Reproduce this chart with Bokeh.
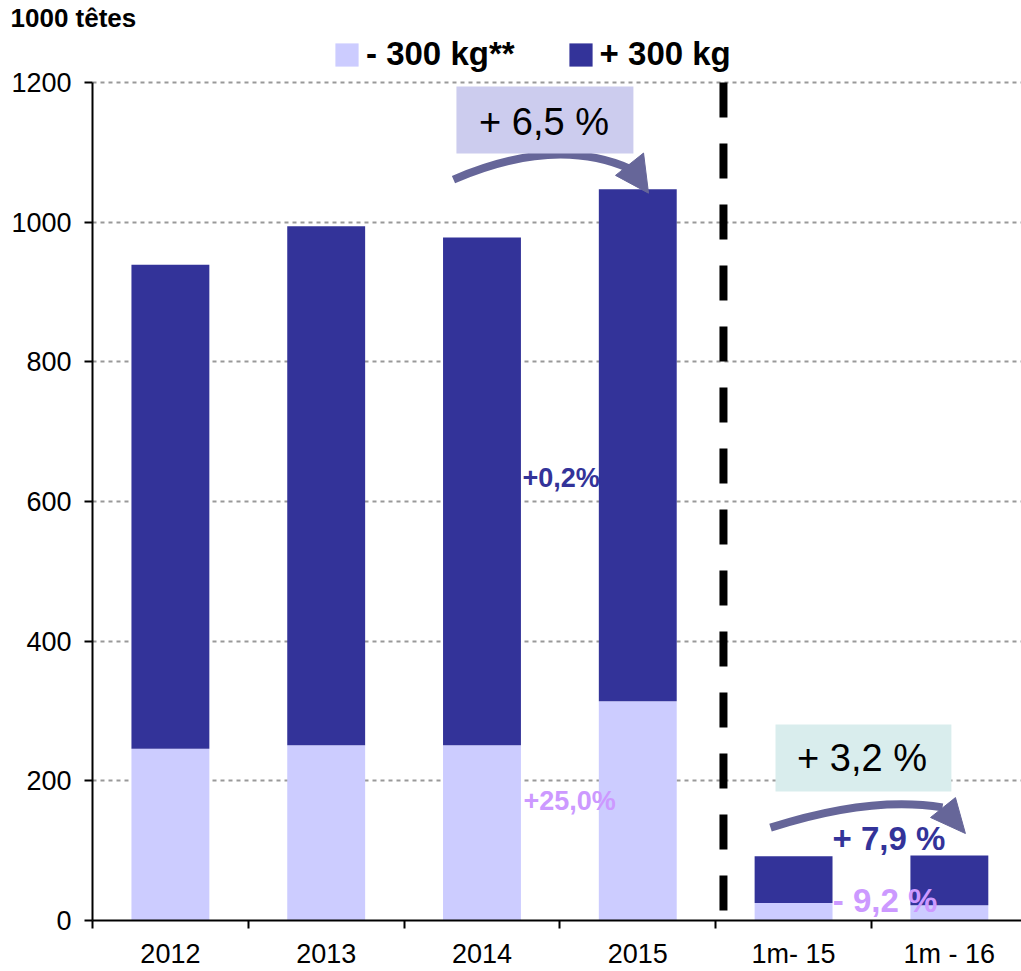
from bokeh.plotting import figure
from bokeh.models import (ColumnDataSource, FixedTicker, Label, Legend, LegendItem,
                          BoxAnnotation, Title)
from bokeh.embed import file_html
from bokeh.resources import INLINE

# ---------------- data ----------------
categories = ["2012", "2013", "2014", "2015", "1m- 15", "1m - 16"]
light = [246, 251, 251, 314, 25, 22]        # - 300 kg**
heavy = [693, 743, 727, 733, 67, 71]        # + 300 kg
series_labels = ["- 300 kg**", "+ 300 kg"]
y_ticks = [0, 200, 400, 600, 800, 1000, 1200]
unit_title = "1000 têtes"

LIGHT = "#CCCCFF"
DARK = "#333399"
PINK = "#CC99FF"
ARROW = "#666699"
FONT = "Liberation Sans"

Y_MAX = 1200
Y_TOP = 1271.6      # frame extends above the axis to host the legend

centers = [i + 0.5 for i in range(len(categories))]
bounds = [float(i) for i in range(len(categories) + 1)]

src = ColumnDataSource(dict(x=centers, light=light, heavy=heavy))

p = figure(width=1021, height=971, x_range=(0, 5.963), y_range=(0, Y_TOP),
           output_backend="svg", toolbar_location=None,
           min_border_left=92, min_border_right=0, min_border_top=32,
           min_border_bottom=51)
p.outline_line_color = None
p.background_fill_color = "white"
p.border_fill_color = "white"

rs = p.vbar_stack(["light", "heavy"], x="x", width=0.5, color=[LIGHT, DARK],
                  line_color=None, source=src)

# ---------------- unit title ----------------
p.add_layout(Title(text=unit_title, align="left", offset=-82, standoff=0,
                   vertical_align="bottom", text_font=FONT, text_font_size="26px",
                   text_font_style="bold", text_color="black"), "above")

# ---------------- axes ----------------
p.xaxis.ticker = FixedTicker(ticks=centers, minor_ticks=bounds)
p.xaxis.major_label_overrides = {c: lab for c, lab in zip(centers, categories)}
p.xaxis.major_tick_out = 0
p.xaxis.major_tick_in = 0
p.xaxis.minor_tick_out = 8
p.xaxis.minor_tick_in = 0
p.xaxis.minor_tick_line_color = "black"
p.xaxis.minor_tick_line_width = 2
p.xaxis.major_label_standoff = 10
p.xaxis.axis_line_width = 2
p.xaxis.axis_line_color = "black"

p.yaxis.ticker = FixedTicker(ticks=y_ticks)
p.yaxis.bounds = (0, Y_MAX)
p.yaxis.major_tick_out = 8
p.yaxis.major_tick_in = 0
p.yaxis.minor_tick_line_color = None
p.yaxis.major_tick_line_width = 2
p.yaxis.major_tick_line_color = "black"
p.yaxis.major_label_standoff = 13
p.yaxis.axis_line_width = 2
p.yaxis.axis_line_color = "black"

for ax in (p.xaxis, p.yaxis):
    ax.major_label_text_font = FONT
    ax.major_label_text_font_size = "27px"
    ax.major_label_text_color = "black"

p.xgrid.grid_line_color = None
p.ygrid.ticker = FixedTicker(ticks=y_ticks)
p.ygrid.grid_line_color = "#999999"
p.ygrid.grid_line_dash = "4 4"
p.ygrid.grid_line_width = 2

# ---------------- separator between years and months ----------------
p.segment(x0=[4.05], y0=[Y_MAX], x1=[4.05], y1=[0], line_color="black",
          line_width=8, line_dash="35 26")

# ---------------- legend ----------------
legend = Legend(items=[LegendItem(label=series_labels[0], renderers=[rs[0]]),
                       LegendItem(label=series_labels[1], renderers=[rs[1]])],
                orientation="horizontal", location=(240, 847),
                glyph_width=29, glyph_height=29, label_standoff=5, spacing=51,
                padding=0, margin=0, border_line_color=None,
                background_fill_alpha=0, label_text_font=FONT,
                label_text_font_size="33px", label_text_font_style="bold",
                label_text_color="black")
p.add_layout(legend)

# ---------------- annotations ----------------
p.add_layout(BoxAnnotation(left=2.336, right=3.472, bottom=1098.3, top=1194.3,
                           fill_color="#CCCCEE", fill_alpha=1, line_color=None))
p.add_layout(Label(x=2.898, y=1144, text="+ 6,5 %", text_font=FONT,
                   text_font_size="38px", text_color="black",
                   text_align="center", text_baseline="middle"))
p.add_layout(BoxAnnotation(left=4.384, right=5.513, bottom=184.7, top=280.7,
                           fill_color="#D9EDED", fill_alpha=1, line_color=None))
p.add_layout(Label(x=4.939, y=233, text="+ 3,2 %", text_font=FONT,
                   text_font_size="38px", text_color="black",
                   text_align="center", text_baseline="middle"))

p.quadratic(x0=[2.317], y0=[1061], x1=[3.453], y1=[1076], cx=[2.972], cy=[1124],
            line_color=ARROW, line_width=8)
p.patch(x=[3.357, 3.537, 3.569], y=[1067, 1099, 1041.5], fill_color=ARROW,
        line_color=ARROW)
p.quadratic(x0=[4.352], y0=[133], x1=[5.456], y1=[162], cx=[4.994], cy=[179],
            line_color=ARROW, line_width=8)
p.patch(x=[5.379, 5.539, 5.603], y=[147.5, 176, 124.6], fill_color=ARROW,
        line_color=ARROW)

p.add_layout(Label(x=2.760, y=633, text="+0,2%", text_font=FONT,
                   text_font_size="27px", text_font_style="bold",
                   text_color=DARK, text_align="left", text_baseline="middle"))
p.add_layout(Label(x=2.766, y=171, text="+25,0%", text_font=FONT,
                   text_font_size="27px", text_font_style="bold",
                   text_color=PINK, text_align="left", text_baseline="middle"))
p.add_layout(Label(x=5.112, y=117, text="+ 7,9 %", text_font=FONT,
                   text_font_size="33px", text_font_style="bold",
                   text_color=DARK, text_align="center", text_baseline="middle"))
p.add_layout(Label(x=5.087, y=28, text="- 9,2 %", text_font=FONT,
                   text_font_size="33px", text_font_style="bold",
                   text_color=PINK, text_align="center", text_baseline="middle"))

open("out.html", "w").write(file_html(p, INLINE))
